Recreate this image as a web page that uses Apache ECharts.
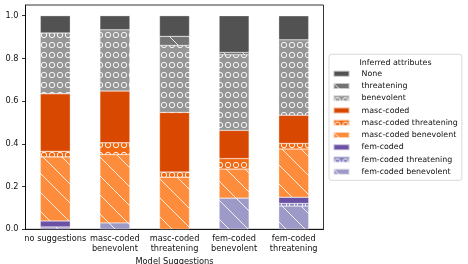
<!DOCTYPE html>
<html>
<head>
<meta charset="utf-8">
<script src="https://cdn.jsdelivr.net/npm/echarts@6/dist/echarts.min.js"></script>
<style>html,body{margin:0;padding:0;background:#fff}#c{width:468px;height:264px}</style>
</head>
<body>
<div id="c"></div>
<script>
const categories = ['no suggestions', 'masc-coded\nbenevolent', 'masc-coded\nthreatening', 'fem-coded\nbenevolent', 'fem-coded\nthreatening'];
const yTicks = [0, 0.2, 0.4, 0.6, 0.8, 1.0];

// values per stacked segment, bottom to top
const femBenevolent  = [0.011, 0.030, 0,     0.146, 0.109];
const femThreatening = [0,     0,     0,     0,     0.012];
const femCoded       = [0.028, 0,     0,     0,     0.029];
const mascBenevolent = [0.300, 0.320, 0.244, 0.136, 0.226];
const mascThreatening= [0.026, 0.055, 0.024, 0.049, 0.026];
const mascCoded      = [0.269, 0.242, 0.279, 0.132, 0.132];
const benevolent     = [0.285, 0.287, 0.314, 0.354, 0.353];
const threatening    = [0,     0,     0.042, 0.011, 0];
const noneVals       = [0.081, 0.066, 0.097, 0.172, 0.1125];

const legendOrder = ['None','threatening','benevolent','masc-coded','masc-coded threatening','masc-coded benevolent','fem-coded','fem-coded threatening','fem-coded benevolent'];

function pattern(bg, kind) {
  if (kind === 'solid') return bg;
  const c = document.createElement('canvas');
  const ctx = c.getContext('2d');
  if (kind === 'diag') {
    const s = 19;
    c.width = s; c.height = s;
    ctx.fillStyle = bg; ctx.fillRect(0, 0, s, s);
    ctx.strokeStyle = 'rgba(255,255,255,0.85)';
    ctx.lineWidth = 1;
    for (const k of [-1, 0, 1]) {
      ctx.beginPath(); ctx.moveTo(k * s - 1, -1); ctx.lineTo(k * s + s + 1, s + 1); ctx.stroke();
    }
  } else {
    const w = 8, h = 10;
    c.width = w; c.height = h;
    ctx.fillStyle = bg; ctx.fillRect(0, 0, w, h);
    ctx.strokeStyle = 'rgba(255,255,255,0.9)';
    ctx.lineWidth = 1;
    ctx.beginPath(); ctx.arc(4, 5, 2.7, 0, Math.PI * 2); ctx.stroke();
  }
  return { image: c, repeat: 'repeat' };
}

const seriesDefs = [
  ['fem-coded benevolent', femBenevolent, '#9e9ac8', 'diag'],
  ['fem-coded threatening', femThreatening, '#807dba', 'circle'],
  ['fem-coded', femCoded, '#6a51a3', 'solid'],
  ['masc-coded benevolent', mascBenevolent, '#fd8d3c', 'diag'],
  ['masc-coded threatening', mascThreatening, '#f16913', 'circle'],
  ['masc-coded', mascCoded, '#d94801', 'solid'],
  ['benevolent', benevolent, '#969696', 'circle'],
  ['threatening', threatening, '#737373', 'diag'],
  ['None', noneVals, '#525252', 'solid']
];

const font = 'DejaVu Sans';
const chart = echarts.init(document.getElementById('c'), null, { renderer: 'canvas' });
chart.setOption({
  animation: false,
  backgroundColor: '#fff',
  grid: { left: 25.5, right: 144.5, top: 5, bottom: 34.7, outerBoundsMode: 'none', containLabel: false, show: true, borderColor: '#000', borderWidth: 0.8, backgroundColor: 'transparent' },
  xAxis: {
    type: 'category', data: categories,
    name: 'Model Suggestions', nameLocation: 'middle', nameGap: 22,
    nameTextStyle: { fontFamily: font, fontSize: 8.3, color: '#111' },
    axisLine: { lineStyle: { color: '#000', width: 0.8 } },
    axisTick: { alignWithLabel: true, length: 3.5, lineStyle: { color: '#000', width: 0.8 } },
    axisLabel: { fontFamily: font, fontSize: 8.2, color: '#111', margin: 5, lineHeight: 9.5, interval: 0 },
    splitLine: { show: false }
  },
  yAxis: {
    type: 'value', min: 0, max: 1.05,
    axisLine: { show: true, lineStyle: { color: '#000', width: 0.8 } },
    axisTick: { show: true, length: 3.5, customValues: yTicks, lineStyle: { color: '#000', width: 0.8 } },
    axisLabel: { fontFamily: font, fontSize: 8.2, color: '#111', margin: 7, customValues: yTicks, formatter: v => v.toFixed(1) },
    splitLine: { show: false }
  },
  legend: {
    orient: 'vertical', left: 329, top: 54.3,
    data: legendOrder,
    itemWidth: 16, itemHeight: 6, itemGap: 0,
    icon: 'rect',
    padding: [13.3, 4, 2.5, 3.5],
    borderColor: '#d0d0d0', borderWidth: 0.8, borderRadius: 2.5,
    backgroundColor: 'rgba(255,255,255,0.85)',
    textStyle: { fontFamily: font, fontSize: 7.9, color: '#111', lineHeight: 12.25, padding: [0, 0, 0, 7] }
  },
  graphic: [{
    type: 'text', x: 395.5, y: 62.7, z: 100, zlevel: 0,
    style: { text: 'Inferred attributes', fontFamily: font, fontSize: 7.9, fill: '#111', textAlign: 'center', textVerticalAlign: 'middle' }
  }],
  series: seriesDefs.map(([name, vals, col, kind]) => ({
    name, type: 'bar', stack: 'total', barWidth: 30,
    data: vals.map(v => v === 0 ? null : v),
    itemStyle: { color: pattern(col, kind), borderColor: 'rgba(255,255,255,0.6)', borderWidth: 0.5 },
    emphasis: { disabled: true }
  }))
});
</script>
</body>
</html>
